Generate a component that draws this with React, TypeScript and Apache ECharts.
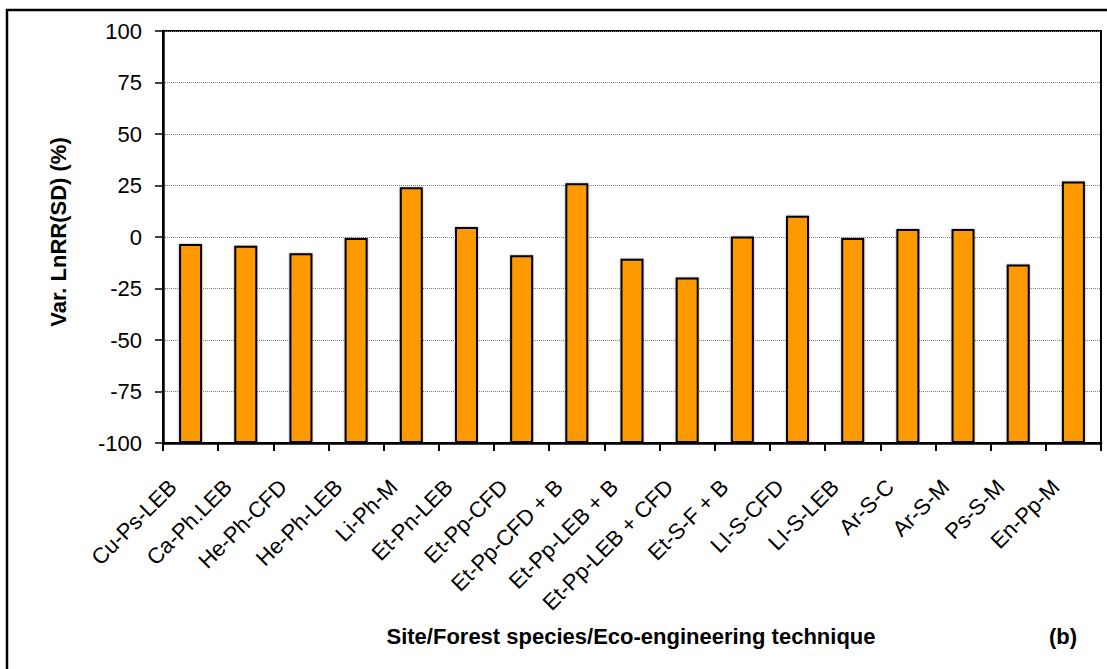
import React, { useEffect, useRef } from "react";
import * as echarts from "echarts";

const categories = [
  "Cu-Ps-LEB",
  "Ca-Ph.LEB",
  "He-Ph-CFD",
  "He-Ph-LEB",
  "Li-Ph-M",
  "Et-Pn-LEB",
  "Et-Pp-CFD",
  "Et-Pp-CFD + B",
  "Et-Pp-LEB + B",
  "Et-Pp-LEB + CFD",
  "Et-S-F + B",
  "LI-S-CFD",
  "LI-S-LEB",
  "Ar-S-C",
  "Ar-S-M",
  "Ps-S-M",
  "En-Pp-M",
];
const values = [
  -3.4, -4.2, -7.9, -0.5, 24.1, 4.9, -8.9, 26.1, -10.6, -19.7, 0.3, 10.3, -0.5,
  3.9, 3.9, -13.3, 26.9,
];
const yMin = -100;
const yMax = 100;
const yStep = 25;
const yTitle = "Var. LnRR(SD) (%)";
const xTitle = "Site/Forest species/Eco-engineering technique";
const panelTag = "(b)";

export default function App() {
  const ref = useRef<HTMLDivElement>(null);
  useEffect(() => {
    document.body.style.margin = "0";
    const chart = echarts.init(ref.current!, null, { renderer: "svg" });
    const font = "Arial, 'Liberation Sans', sans-serif";
    chart.setOption({
      animation: false,
      backgroundColor: "#fff",
      grid: {
        left: 163,
        right: 6,
        top: 31,
        bottom: 226,
        show: true,
        borderColor: "#000",
        borderWidth: 2,
      },
      xAxis: {
        type: "category",
        data: categories,
        boundaryGap: true,
        axisLine: { lineStyle: { color: "#000", width: 2.5 } },
        axisTick: {
          show: true,
          alignWithLabel: false,
          length: 8,
          lineStyle: { color: "#000", width: 2 },
        },
        axisLabel: {
          rotate: 45,
          interval: 0,
          margin: 58,
          align: "right",
          verticalAlign: "bottom",
          lineHeight: 50,
          color: "#000",
          fontFamily: font,
          fontSize: 22,
        },
      },
      yAxis: {
        type: "value",
        min: 0,
        max: yMax - yMin,
        interval: yStep,
        axisLine: { show: true, lineStyle: { color: "#000", width: 2.5 } },
        axisTick: {
          show: true,
          length: 8,
          lineStyle: { color: "#000", width: 1.5 },
        },
        axisLabel: {
          formatter: (v: number) => String(v + yMin),
          color: "#000",
          fontFamily: font,
          fontSize: 22,
          margin: 21,
        },
        splitLine: {
          show: true,
          lineStyle: { color: "#808080", type: "dotted", width: 1 },
        },
      },
      series: [
        {
          type: "bar",
          data: values.map((v) => v - yMin),
          barWidth: 23,
          itemStyle: {
            color: "#FF9900",
            borderColor: "#000",
            borderWidth: 2,
            shadowBlur: 2,
            shadowColor: "rgba(0,0,0,0.35)",
          },
        },
      ],
      graphic: [
        {
          type: "rect",
          shape: { x: 7, y: 10, width: 1400, height: 900 },
          style: { fill: "none", stroke: "#000", lineWidth: 2.5 },
          silent: true,
        },
        {
          type: "text",
          x: 58,
          y: 232,
          rotation: Math.PI / 2,
          style: {
            text: yTitle,
            fontFamily: font,
            fontWeight: "bold",
            fontSize: 22,
            fill: "#000",
            align: "center",
            verticalAlign: "middle",
          },
        },
        {
          type: "text",
          x: 631,
          y: 636,
          style: {
            text: xTitle,
            fontFamily: font,
            fontWeight: "bold",
            fontSize: 22,
            fill: "#000",
            align: "center",
            verticalAlign: "middle",
          },
        },
        {
          type: "text",
          x: 1063,
          y: 636,
          style: {
            text: panelTag,
            fontFamily: font,
            fontWeight: "bold",
            fontSize: 22,
            fill: "#000",
            align: "center",
            verticalAlign: "middle",
          },
        },
      ],
    });
    return () => chart.dispose();
  }, []);
  return <div ref={ref} style={{ width: 1107, height: 669 }} />;
}
